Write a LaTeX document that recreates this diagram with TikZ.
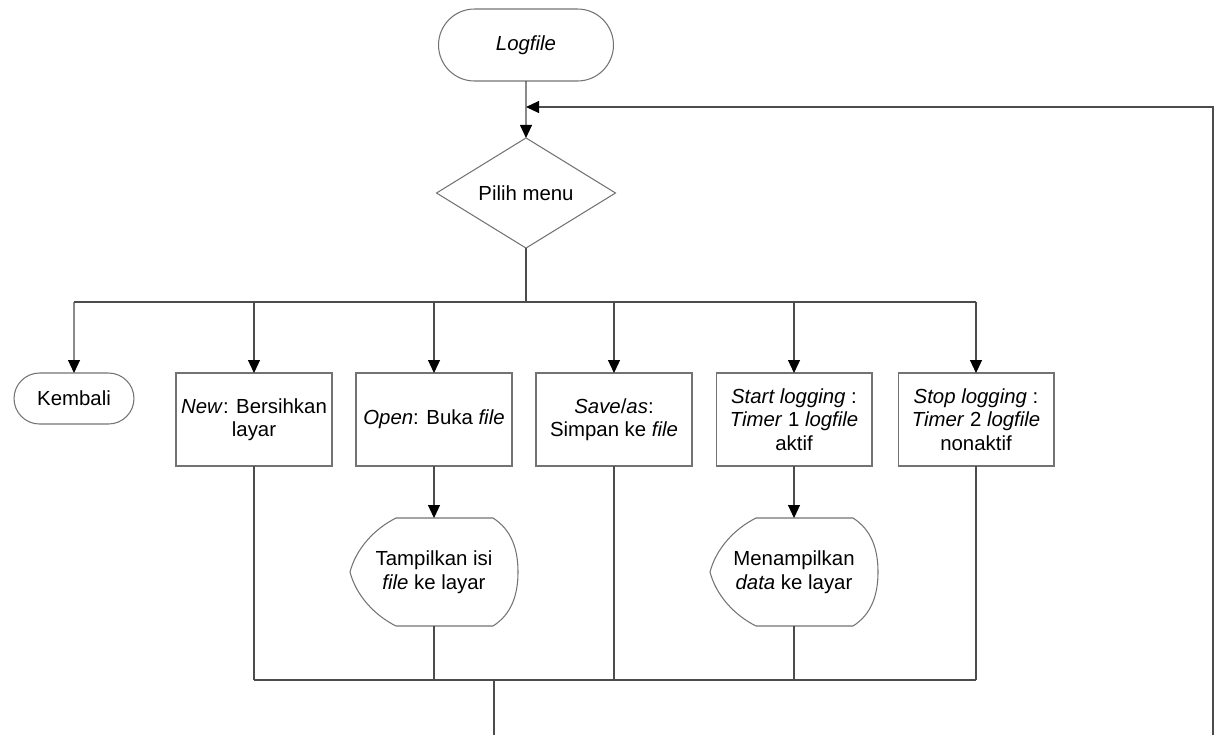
\documentclass[tikz,border=0pt]{standalone}
\usepackage{fontspec}
\setmainfont{Liberation Sans}
\usetikzlibrary{positioning,arrows.meta,calc,shapes.geometric,shapes.misc}

\begin{document}
\begin{tikzpicture}[
x=0.02cm,y=-0.02cm,
every node/.style={font=\fontsize{11.6}{13.4}\selectfont,align=center,outer sep=0pt,inner sep=2pt},
terminal/.style={rounded rectangle,draw=black!55,line width=0.6pt},
proses/.style={rectangle,draw=black!55,line width=0.6pt,minimum width=3.12cm,minimum height=1.86cm},
pilihan/.style={diamond,draw=black!55,line width=0.6pt,minimum width=3.58cm,minimum height=2.14cm,inner sep=0pt},
tampilan/.style={rectangle,minimum width=3.36cm,minimum height=2.16cm},
garis/.style={draw=black!70,line width=0.6pt},
panah/.style={garis,-{Triangle[length=2.6mm,width=2.4mm,color=black]}}
]
\useasboundingbox (0,0) rectangle (1219,735);

\node[terminal,minimum width=3.64cm,minimum height=1.44cm] (logfile) at (526,45) {\textit{Logfile}};
\node[pilihan] (pilih) at (526,193) {Pilih menu};

\node[terminal,minimum width=2.54cm,minimum height=1.02cm] (kembali) at (74,398.5) {Kembali};
\node[proses] (new) at (254,419.5) {\textit{New}: Bersihkan\\layar};
\node[proses] (open) at (434,419.5) {\textit{Open}: Buka \textit{file}};
\node[proses] (save) at (614,419.5) {\textit{Save}/\textit{as}:\\Simpan ke \textit{file}};
\node[proses] (start) at (794,419.5) {\textit{Start logging} :\\\textit{Timer} 1 \textit{logfile}\\aktif};
\node[proses] (stop) at (976,419.5) {\textit{Stop logging} :\\\textit{Timer} 2 \textit{logfile}\\nonaktif};

\node[tampilan] (tampil) at (434,572) {Tampilkan isi\\\textit{file} ke layar};
\node[tampilan] (menampil) at (794,572) {Menampilkan\\\textit{data} ke layar};

% bentuk display
\foreach \n in {tampil,menampil}
  \draw[draw=black!55,line width=0.6pt]
    ($(\n)+(-38,-54)$) -- ($(\n)+(59,-54)$)
    .. controls ($(\n)+(78,-42)$) and ($(\n)+(84,-22)$) .. ($(\n)+(84,0)$)
    .. controls ($(\n)+(84,22)$) and ($(\n)+(78,42)$) .. ($(\n)+(59,54)$)
    -- ($(\n)+(-38,54)$)
    .. controls ($(\n)+(-60,43)$) and ($(\n)+(-78,23)$) .. ($(\n)+(-84,0)$)
    .. controls ($(\n)+(-78,-23)$) and ($(\n)+(-60,-43)$) .. cycle;

\coordinate (cab) at (526,302);
\coordinate (gab) at (494,680);
\coordinate (balik) at (526,107);
\coordinate (ujung) at (494,735);
\coordinate (kanan) at (1213,735);

\draw[panah] (logfile) -- (pilih);
\draw[garis] (pilih) -- (cab);
\draw[garis] (kembali |- cab) -- (stop |- cab);
\foreach \n in {kembali,new,open,save,start,stop}
  \draw[panah] (\n |- cab) -- (\n);
\draw[panah] (open) -- (tampil);
\draw[panah] (start) -- (menampil);

\foreach \n in {new,tampil,save,menampil,stop}
  \draw[garis] (\n) -- (\n |- gab);
\draw[garis] (new |- gab) -- (stop |- gab);
\draw[garis] (gab) -- (ujung);
\draw[panah] (kanan) |- (balik);
\end{tikzpicture}
\end{document}
